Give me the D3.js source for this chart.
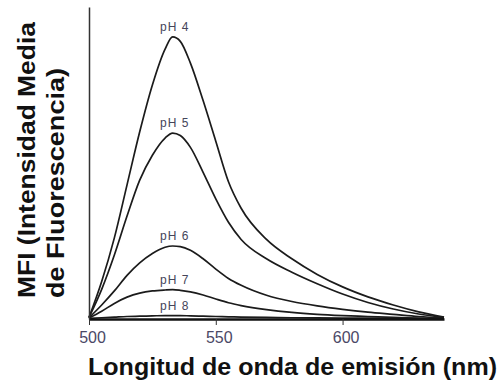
<!DOCTYPE html>
<html>
<head>
<meta charset="utf-8">
<script src="https://cdn.jsdelivr.net/npm/d3@7"></script>
<style>
  body { margin: 0; background: #fff; }
  svg { display: block; }
</style>
</head>
<body>
<div id="chart"></div>
<script>
// emission spectra, values (arbitrary MFI units)
var wavelengths = [500, 505, 510, 515, 520, 525, 530, 533, 536, 540, 545, 550, 555, 560, 570, 580, 590, 600, 610, 620, 630, 640];

var labels = ["pH 4", "pH 5", "pH 6", "pH 7", "pH 8"];
var peakWavelength = 533;

var ph4 = [0.5, 12, 26, 43, 60, 75, 86.5, 90.4, 89, 82, 70, 57, 44, 35.5, 25.5, 19.3, 14.3, 10.3, 7.1, 4.5, 2.3, 0.6];
var ph5 = [0.5, 9.5, 20.5, 33, 44.5, 52.5, 58, 59.6, 58.8, 55, 47, 38.5, 31, 25.5, 19.3, 15, 11.3, 8, 5.3, 3.2, 1.6, 0.5];
var ph6 = [0.4, 4.5, 9, 14, 18, 21, 23, 23.4, 23.2, 22, 19.3, 16, 13, 10.8, 7.6, 5.6, 4.2, 3.1, 2.2, 1.5, 0.8, 0.3];
var ph7 = [0.3, 2.5, 5, 7, 8.3, 9, 9.3, 9.4, 9.2, 8.7, 7.7, 6.4, 5.2, 4.3, 3, 2.1, 1.5, 1.1, 0.8, 0.5, 0.3, 0.1];
var ph8 = [0.2, 0.4, 0.6, 0.8, 0.9, 1, 1.1, 1.1, 1.1, 1, 0.9, 0.8, 0.7, 0.6, 0.5, 0.4, 0.35, 0.3, 0.25, 0.2, 0.15, 0.1];

var xTicks = [500, 550, 600];

var series = [ph4, ph5, ph6, ph7, ph8];

var width = 501;
var height = 389;

var x = d3.scaleLinear().domain([500, 640]).range([89, 444]);
var y = d3.scaleLinear().domain([0, 100]).range([319, 7]);

var svg = d3.select("#chart")
  .append("svg")
    .attr("width", width)
    .attr("height", height)
    .style("background", "#fff");

var line = d3.line()
    .x(function(d, i) { return x(wavelengths[i]); })
    .y(function(d) { return y(d); })
    .curve(d3.curveMonotoneX);

svg.append("g")
    .attr("class", "curves")
  .selectAll("path")
    .data(series)
    .enter()
      .append("path")
      .attr("d", line)
      .attr("fill", "none")
      .attr("stroke", "#1b1b1b")
      .attr("stroke-width", 1.7);

// pH labels sit just above each peak
svg.append("g")
    .attr("class", "ph-labels")
  .selectAll("text")
    .data(series)
    .enter()
      .append("text")
      .attr("x", x(peakWavelength) + 2)
      .attr("y", function(d) { return y(d3.max(d)) - 6; })
      .attr("text-anchor", "middle")
      .style("font-family", "Liberation Sans, Arial, sans-serif")
      .style("font-size", "12px")
      .style("letter-spacing", "1px")
      .style("fill", "#45455a")
      .text(function(d, i) { return labels[i]; });

var xAxis = d3.axisBottom(x)
    .tickValues(xTicks)
    .tickSize(6)
    .tickSizeOuter(0)
    .tickPadding(7);

var gx = svg.append("g")
    .attr("transform", "translate(0," + y(0) + ")")
    .call(xAxis);

gx.select(".domain").attr("stroke", "#111").attr("stroke-width", 2.4);
gx.selectAll(".tick line").attr("stroke", "#333").attr("stroke-width", 1);
gx.selectAll(".tick text")
    .style("font-family", "Liberation Sans, Arial, sans-serif")
    .style("font-size", "16px")
    .style("fill", "#4b4866")
    .attr("dx", 3);

var yAxis = d3.axisLeft(y).tickValues([]).tickSizeOuter(0);

var gy = svg.append("g")
    .attr("transform", "translate(" + x(500) + ",0)")
    .call(yAxis);

gy.select(".domain").attr("stroke", "#333").attr("stroke-width", 1.5);

svg.append("text")
    .attr("x", 88)
    .attr("y", 375)
    .attr("textLength", 409)
    .attr("lengthAdjust", "spacingAndGlyphs")
    .style("font-family", "Liberation Sans, Arial, sans-serif")
    .style("font-weight", "bold")
    .style("font-size", "23px")
    .style("fill", "#111")
    .text("Longitud de onda de emisión (nm)");

var yTitle = svg.append("g")
    .attr("transform", "translate(0,298) rotate(-90)");

yTitle.append("text")
    .attr("x", 0)
    .attr("y", 35)
    .attr("textLength", 276)
    .attr("lengthAdjust", "spacingAndGlyphs")
    .style("font-family", "Liberation Sans, Arial, sans-serif")
    .style("font-weight", "bold")
    .style("font-size", "23px")
    .style("fill", "#111")
    .text("MFI (Intensidad Media");

yTitle.append("text")
    .attr("x", 0)
    .attr("y", 64)
    .attr("textLength", 230)
    .attr("lengthAdjust", "spacingAndGlyphs")
    .style("font-family", "Liberation Sans, Arial, sans-serif")
    .style("font-weight", "bold")
    .style("font-size", "23px")
    .style("fill", "#111")
    .text("de Fluorescencia)");
</script>
</body>
</html>
